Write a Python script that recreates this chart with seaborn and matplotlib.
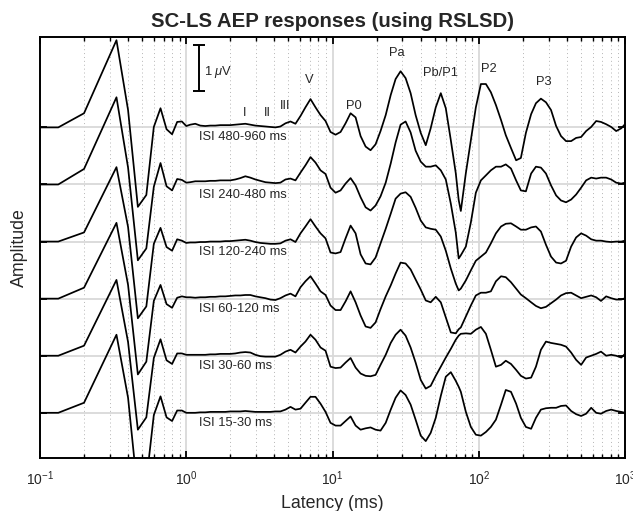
import matplotlib
matplotlib.use("Agg")
import matplotlib.pyplot as plt
import pandas as pd
import seaborn as sns

# ---- data (latency in ms, amplitude in uV) ----
early_latency = [0.0667, 0.1333, 0.2, 0.3333, 0.4, 0.4667, 0.5333, 0.6, 0.6667,
                 0.7333, 0.8, 0.8667, 0.9333]
late_latency = [1.0, 1.065, 1.152, 1.247, 1.349, 1.46, 1.58, 1.709, 1.85, 2.0,
                2.165, 2.343, 2.535, 2.743, 2.97, 3.21, 3.48, 3.76, 4.07, 4.4,
                4.77, 5.16, 5.58, 6.04, 6.53, 7.07, 7.65, 8.28, 8.96, 9.69,
                10.49, 11.35, 12.28, 13.29, 14.38, 15.56, 16.84, 18.2, 19.7, 21.3,
                23.1, 25.0, 27.0, 29.2, 31.6, 34.2, 37.0, 40.1, 43.4, 46.9,
                50.8, 55.0, 59.5, 64.4, 69.6, 72.9, 75.4, 81.6, 88.3, 95.5,
                103.4, 111.9, 121, 131, 142, 153, 166, 180, 194, 210,
                228, 246, 266, 288, 312, 338, 365, 395, 428, 463,
                501, 542, 587, 635, 685, 743, 804, 870, 942, 1000]
latency = early_latency + late_latency

isi_labels = ["ISI 480-960 ms", "ISI 240-480 ms", "ISI 120-240 ms",
              "ISI 60-120 ms", "ISI 30-60 ms", "ISI 15-30 ms"]
offsets = [0.0, -1.25, -2.5, -3.75, -5.0, -6.25]

isi_480_960 = [0, 0, 0.31, 1.91, 0.38, -1.74, -1.48, 0.01, 0.42, -0.04, -0.15, 0.12, 0.13,
               0.03, 0.06, 0.08, 0.04, 0.03, 0.04, 0.04, 0.05, 0.05, 0.05,
               0.06, 0.07, 0.08, 0.06, 0.04, 0.03, 0.02, 0.01, 0.0, 0.02,
               0.09, 0.13, 0.08, 0.25, 0.44, 0.62, 0.44, 0.27, 0.14, -0.10,
               -0.16, -0.10, 0.09, 0.31, 0.22, -0.19, -0.42, -0.50, -0.37, -0.08,
               0.27, 0.71, 1.06, 1.23, 1.08, 0.75, 0.27, -0.12, -0.39, -0.02,
               0.44, 0.75, 0.42, -0.28, -1.00, -1.59, -1.83, -1.00, -0.28, 0.44,
               0.95, 0.95, 0.77, 0.49, 0.16, -0.17, -0.45, -0.72, -0.67, -0.12,
               0.29, 0.53, 0.63, 0.55, 0.38, 0.03, -0.19, -0.30, -0.30, -0.23,
               -0.21, -0.08, 0.01, 0.14, 0.12, 0.07, 0.01, -0.08, -0.02, 0.07]
isi_240_480 = [0, 0, 0.34, 1.91, 0.37, -1.66, -1.40, -0.05, 0.47, -0.04, -0.13, 0.12, 0.10,
               0.04, 0.05, 0.07, 0.07, 0.07, 0.08, 0.08, 0.09, 0.09, 0.09,
               0.11, 0.14, 0.18, 0.15, 0.11, 0.08, 0.05, 0.04, 0.03, 0.04,
               0.11, 0.13, 0.09, 0.26, 0.42, 0.60, 0.48, 0.31, 0.23, -0.07,
               -0.18, -0.13, 0.02, 0.14, -0.02, -0.28, -0.50, -0.57, -0.46, -0.26,
               0.04, 0.46, 0.92, 1.31, 1.38, 1.14, 0.74, 0.50, 0.39, 0.39,
               0.42, 0.31, 0.11, -0.42, -1.05, -1.62, -1.55, -1.36, -0.83, -0.18,
               0.09, 0.20, 0.31, 0.39, 0.39, 0.44, 0.35, 0.09, -0.13, -0.15,
               0.24, 0.39, 0.37, 0.24, -0.02, -0.24, -0.35, -0.39, -0.33, -0.22,
               -0.07, 0.09, 0.15, 0.13, 0.15, 0.15, 0.11, 0.04, 0.02, 0.04]
isi_120_240 = [0, 0, 0.20, 1.63, 0.32, -1.68, -1.42, -0.05, 0.30, -0.12, -0.20, 0.05, 0.02,
               -0.03, -0.02, -0.02, -0.01, -0.01, 0.0, 0.0, 0.0, 0.01, 0.01,
               0.02, 0.03, 0.04, 0.02, -0.01, -0.03, -0.04, -0.05, -0.05, -0.04,
               0.02, 0.05, -0.01, 0.18, 0.33, 0.49, 0.33, 0.18, 0.07, -0.24,
               -0.26, -0.23, 0.07, 0.35, 0.18, -0.28, -0.48, -0.50, -0.35, -0.04,
               0.28, 0.61, 0.94, 1.05, 1.08, 0.98, 0.74, 0.46, 0.31, 0.28,
               0.26, 0.11, -0.20, -0.59, -0.92, -1.07, -1.03, -0.85, -0.63, -0.42,
               -0.33, -0.24, -0.04, 0.18, 0.33, 0.39, 0.40, 0.33, 0.26, 0.26,
               0.31, 0.33, 0.22, -0.07, -0.33, -0.46, -0.48, -0.42, -0.11, 0.09,
               0.18, 0.13, 0.05, 0.02, 0.02, 0.0, -0.01, 0.0, 0.0, 0.02]
isi_60_120 = [0, 0, 0.24, 1.66, 0.30, -1.66, -1.38, -0.05, 0.30, -0.12, -0.20, 0.02, 0.05,
              0.03, 0.03, 0.02, 0.03, 0.03, 0.04, 0.04, 0.05, 0.05, 0.06,
              0.07, 0.07, 0.08, 0.08, 0.05, 0.03, 0.01, -0.02, -0.03, 0.01,
              0.07, 0.11, 0.05, 0.25, 0.38, 0.49, 0.33, 0.16, 0.08, -0.15,
              -0.25, -0.25, -0.06, 0.16, -0.08, -0.37, -0.61, -0.64, -0.52, -0.23,
              0.05, 0.29, 0.55, 0.79, 0.77, 0.64, 0.42, 0.20, -0.04, -0.08,
              0.04, -0.08, -0.41, -0.74, -0.76, -0.67, -0.63, -0.39, -0.15, 0.07,
              0.13, 0.13, 0.16, 0.38, 0.49, 0.47, 0.36, 0.22, 0.09, 0.01,
              -0.08, -0.16, -0.21, -0.18, -0.10, -0.02, 0.07, 0.12, 0.13, 0.07,
              0.01, 0.04, 0.07, 0.03, -0.05, 0.05, 0.01, -0.02, -0.02, 0.01]
isi_30_60 = [0, 0, 0.22, 1.66, 0.30, -1.62, -1.35, -0.05, 0.36, -0.10, -0.18, 0.05, 0.05,
             0.02, 0.02, 0.02, 0.02, 0.02, 0.03, 0.03, 0.04, 0.04, 0.04,
             0.05, 0.07, 0.08, 0.07, 0.02, -0.01, -0.02, -0.02, -0.02, 0.02,
             0.09, 0.13, 0.07, 0.20, 0.31, 0.46, 0.35, 0.18, 0.11, -0.24,
             -0.27, -0.26, -0.15, -0.05, -0.26, -0.39, -0.44, -0.45, -0.42, -0.20,
             0.02, 0.28, 0.46, 0.57, 0.44, 0.18, -0.15, -0.53, -0.72, -0.66,
             -0.44, -0.24, -0.04, 0.15, 0.35, 0.44, 0.48, 0.49, 0.48, 0.57,
             0.63, 0.48, 0.13, -0.24, -0.20, -0.11, -0.18, -0.31, -0.44, -0.50,
             -0.48, -0.24, 0.13, 0.31, 0.28, 0.26, 0.24, 0.20, 0.07, -0.09,
             -0.20, -0.04, 0.0, 0.04, 0.09, 0.0, 0.02, 0.0, -0.04, 0.04]
isi_15_30 = [0, 0, 0.22, 1.71, 0.33, -1.78, -1.50, -0.05, 0.36, -0.10, -0.18, 0.05, 0.05,
             0.0, 0.0, 0.0, 0.01, 0.01, 0.02, 0.02, 0.02, 0.02, 0.03,
             0.03, 0.03, 0.04, 0.03, 0.02, 0.02, 0.02, 0.02, 0.03, 0.03,
             0.07, 0.13, 0.07, 0.09, 0.22, 0.35, 0.35, 0.20, 0.02, -0.22,
             -0.28, -0.28, -0.18, -0.08, -0.28, -0.37, -0.34, -0.32, -0.37, -0.39,
             -0.22, 0.07, 0.33, 0.49, 0.39, 0.18, -0.15, -0.50, -0.62, -0.44,
             -0.11, 0.37, 0.79, 0.89, 0.70, 0.57, 0.46, 0.02, -0.31, -0.48,
             -0.50, -0.42, -0.31, -0.15, 0.18, 0.50, 0.46, 0.20, -0.11, -0.31,
             -0.35, -0.11, 0.07, 0.10, 0.11, 0.11, 0.15, 0.16, 0.04, -0.03,
             -0.07, -0.02, 0.11, 0.0, -0.02, 0.04, 0.07, 0.04, 0.02, 0.0]
traces = [isi_480_960, isi_240_480, isi_120_240, isi_60_120, isi_30_60, isi_15_30]

peak_names = ["I", "II", "III", "V", "P0", "Pa", "Pb/P1", "P2", "P3"]
peak_latency = [2.51, 3.57, 4.71, 6.88, 14.0, 27.7, 54.9, 116.5, 280]
peak_height = [0.31, 0.31, 0.47, 1.04, 0.47, 1.62, 1.19, 1.29, 1.00]

# ---- long table for seaborn ----
rows = []
for label, off, amps in zip(isi_labels, offsets, traces):
    for t, a in zip(latency, amps):
        rows.append((label, t, a + off))
df = pd.DataFrame(rows, columns=["ISI", "Latency", "Amplitude"])

sns.set_theme(style="ticks")
plt.rcParams["font.family"] = ["Liberation Sans", "DejaVu Sans"]
plt.rcParams["mathtext.fontset"] = "custom"
plt.rcParams["mathtext.rm"] = "Liberation Sans"
plt.rcParams["mathtext.it"] = "Liberation Sans:italic"

fig = plt.figure(figsize=(6.33, 5.11), dpi=100)
ax = fig.add_axes([0.0632, 0.1037, 0.9242, 0.8239])

sns.lineplot(data=df, x="Latency", y="Amplitude", units="ISI", estimator=None,
             sort=False, color="black", lw=1.25, ax=ax)

ax.set_xscale("log")
ax.set_xlim(0.1, 1000)
ax.set_ylim(-7.24, 1.98)
ax.set_yticks(sorted(offsets))
ax.set_yticklabels([])

ax.set_axisbelow(True)
ax.grid(which="major", axis="both", color="#d9d9d9", lw=1.3, ls="-")
ax.grid(which="minor", axis="x", color="#b5b5b5", lw=0.7, ls=(0, (1, 3)))

ax.tick_params(which="both", direction="in", top=True, right=True, color="black")
ax.tick_params(which="major", length=5, width=1.3, labelsize=10, pad=8)
ax.tick_params(which="minor", length=3, width=1.0)
for s in ax.spines.values():
    s.set_linewidth(1.4)
    s.set_color("black")

ax.set_xlabel("Latency (ms)", fontsize=12.8, labelpad=5)
ax.set_ylabel("Amplitude", fontsize=12.8, labelpad=1)
ax.set_title("SC-LS AEP responses (using RSLSD)", fontsize=14.7,
             fontweight="bold", pad=7)

for label, off in zip(isi_labels, offsets):
    ax.text(1.23, off - 0.22, label, fontsize=9.3, ha="left", va="center")

for name, t, h in zip(peak_names, peak_latency, peak_height):
    ax.text(t, h, name, fontsize=9.3, ha="center", va="center")

# 1 uV scale bar
ax.errorbar([1.214], [1.3], yerr=[[0.5], [0.5]], color="black", lw=1.4,
            capsize=4, capthick=1.4)
ax.text(1.33, 1.22, "1 $\\mu$V", fontsize=9.3, ha="left", va="center")

fig.savefig("out.png", dpi=100)
